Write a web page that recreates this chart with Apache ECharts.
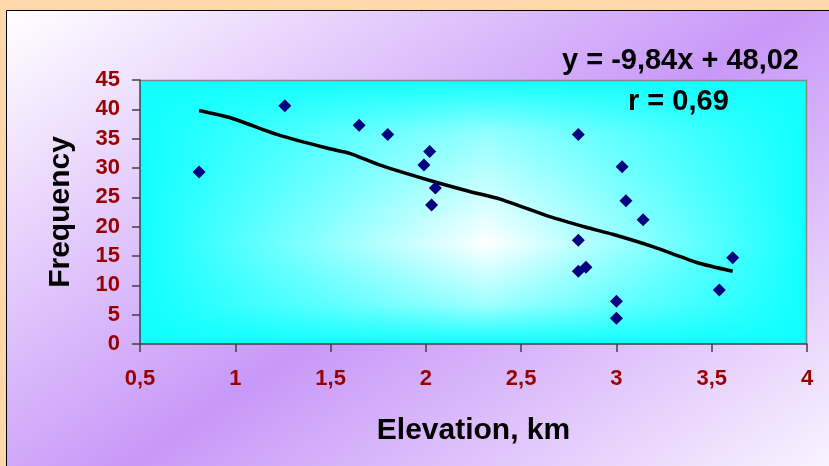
<!DOCTYPE html>
<html>
<head>
<meta charset="utf-8">
<script src="https://cdn.jsdelivr.net/npm/echarts@6/dist/echarts.min.js"></script>
<style>
    html, body { margin: 0; padding: 0; background: #FFD8AA; }
    #main { width: 829px; height: 466px; }
</style>
</head>
<body>
<div id="main"></div>
<script>
// Elevation (km) vs Frequency
var elevation = [0.81, 1.26, 1.65, 1.80, 1.99, 2.02, 2.05, 2.03, 2.80, 3.03, 3.05, 3.14, 2.80, 2.80, 2.84, 3.00, 3.00, 3.54, 3.61];
var frequency = [29.3, 40.6, 37.3, 35.7, 30.5, 32.8, 26.6, 23.7, 35.7, 30.2, 24.4, 21.2, 17.7, 12.4, 13.1, 7.3, 4.4, 9.2, 14.7];

// trend line as drawn
var trendX = [0.81, 0.97, 1.23, 1.48, 1.60, 1.76, 2.04, 2.23, 2.39, 2.65, 2.84, 2.98, 3.19, 3.43, 3.61];
var trendY = [39.8, 38.6, 35.6, 33.4, 32.5, 30.5, 27.7, 26.0, 24.7, 21.7, 19.9, 18.7, 16.6, 13.8, 12.4];

var xTickLabels = ['0,5', '1', '1,5', '2', '2,5', '3', '3,5', '4'];
var yTickLabels = ['0', '5', '10', '15', '20', '25', '30', '35', '40', '45'];

var equationText = 'y = -9,84x + 48,02';
var rText = 'r = 0,69';

var myChart = echarts.init(document.getElementById('main'));

var points = elevation.map(function(v, i) { return [v, frequency[i]]; });
var trend = trendX.map(function(v, i) { return [v, trendY[i]]; });

var font = '"Liberation Sans", Arial, sans-serif';
var labelColor = '#990000';
var cyan = 'rgba(16,255,255,';

option = {
    animation: false,
    backgroundColor: '#FFD8AA',
    grid: {
        left: 140,
        right: 22,
        top: 80,
        bottom: 122,
        show: false
    },
    graphic: [{
            // outer frame, purple band from top right to bottom left
            type: 'rect',
            z: -10,
            shape: { x: 6.5, y: 10.5, width: 830, height: 470 },
            style: {
                stroke: '#000',
                lineWidth: 1,
                fill: {
                    type: 'linear',
                    x: 213, y: -131, x2: 716, y2: 607,
                    global: true,
                    colorStops: [
                        { offset: 0, color: '#FFFFFF' },
                        { offset: 0.5, color: '#C898F8' },
                        { offset: 1, color: '#FFFFFF' }
                    ]
                }
            }
        }, {
            // plot background, horizontal part
            type: 'rect',
            z: -9,
            shape: { x: 140, y: 80, width: 667, height: 264 },
            style: {
                fill: {
                    type: 'linear',
                    x: 0, y: 0, x2: 1, y2: 0,
                    colorStops: [
                        { offset: 0, color: cyan + '1)' },
                        { offset: 0.52, color: '#FFFFFF' },
                        { offset: 1, color: cyan + '1)' }
                    ]
                }
            }
        }, {
            // plot background, vertical part
            type: 'rect',
            z: -8,
            shape: { x: 140, y: 80, width: 667, height: 264 },
            style: {
                fill: {
                    type: 'linear',
                    x: 0, y: 0, x2: 0, y2: 1,
                    colorStops: [
                        { offset: 0, color: cyan + '1)' },
                        { offset: 0.2, color: cyan + '0.45)' },
                        { offset: 0.62, color: cyan + '0)' },
                        { offset: 0.85, color: cyan + '0.4)' },
                        { offset: 1, color: cyan + '1)' }
                    ]
                }
            }
        }, {
            // top and right border
            type: 'polyline',
            z: -7,
            shape: { points: [[140, 80.5], [806.5, 80.5], [806.5, 344]] },
            style: { stroke: '#888888', lineWidth: 1.5, fill: null }
        }, {
            type: 'text',
            right: 30,
            top: 46,
            style: {
                text: equationText,
                font: 'bold 29px ' + font,
                fill: '#000'
            }
        }, {
            type: 'text',
            left: 628,
            top: 87,
            style: {
                text: rText,
                font: 'bold 29px ' + font,
                fill: '#000'
            }
        }
    ],
    xAxis: {
        type: 'value',
        min: 0.5,
        max: 4,
        interval: 0.5,
        name: 'Elevation, km',
        nameLocation: 'middle',
        nameGap: 72,
        nameTextStyle: {
            fontFamily: font,
            fontWeight: 'bold',
            fontSize: 30,
            color: '#000'
        },
        axisLine: {
            lineStyle: { color: '#404040', width: 1.5 }
        },
        axisTick: {
            inside: false,
            length: 8,
            lineStyle: { color: '#404040', width: 1.5 }
        },
        axisLabel: {
            margin: 24,
            fontFamily: font,
            fontWeight: 'bold',
            fontSize: 22,
            color: labelColor,
            formatter: function(v) {
                return xTickLabels[Math.round((v - 0.5) / 0.5)];
            }
        },
        splitLine: { show: false }
    },
    yAxis: {
        type: 'value',
        min: 0,
        max: 45,
        interval: 5,
        name: 'Frequency',
        nameLocation: 'middle',
        nameGap: 64,
        nameTextStyle: {
            fontFamily: font,
            fontWeight: 'bold',
            fontSize: 30,
            color: '#000'
        },
        axisLine: {
            show: true,
            lineStyle: { color: '#404040', width: 1.5 }
        },
        axisTick: {
            show: true,
            length: 8,
            lineStyle: { color: '#404040', width: 1.5 }
        },
        axisLabel: {
            margin: 20,
            fontFamily: font,
            fontWeight: 'bold',
            fontSize: 22,
            color: labelColor,
            formatter: function(v) {
                return yTickLabels[Math.round(v / 5)];
            }
        },
        splitLine: { show: false }
    },
    series: [{
            name: 'trend',
            type: 'line',
            data: trend,
            smooth: 0.2,
            showSymbol: false,
            symbol: 'none',
            lineStyle: { color: '#000', width: 3.5 },
            z: 3
        }, {
            name: 'data',
            type: 'scatter',
            data: points,
            symbol: 'diamond',
            symbolSize: 13,
            itemStyle: { color: '#000080', opacity: 1 },
            z: 4
        }
    ]
};

myChart.setOption(option);
</script>
</body>
</html>
